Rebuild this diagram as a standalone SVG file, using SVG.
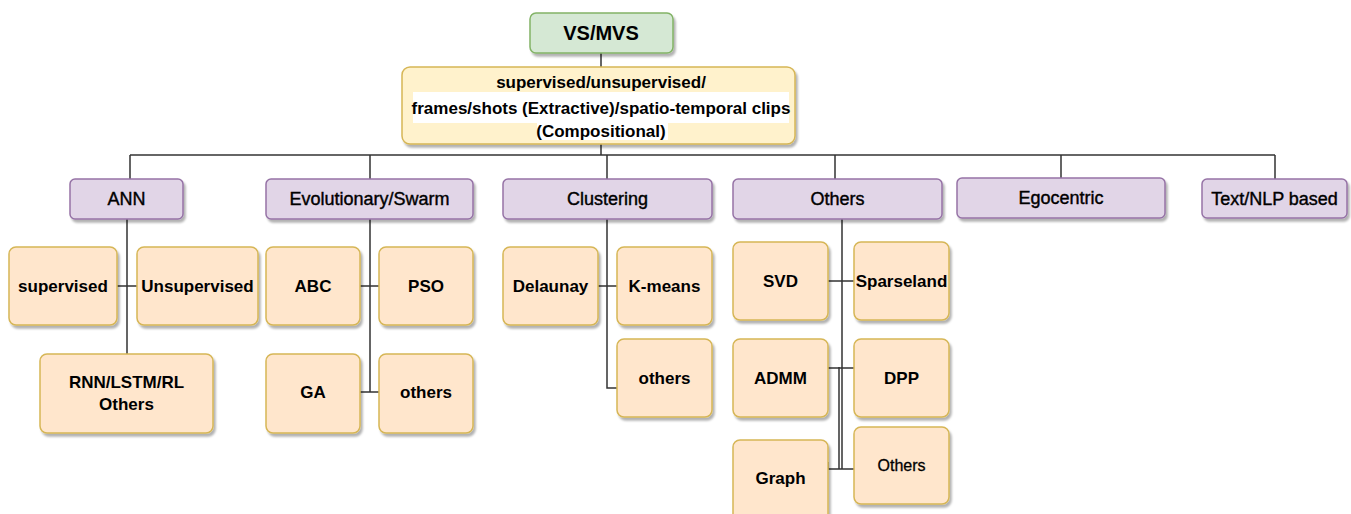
<svg xmlns="http://www.w3.org/2000/svg" width="1351" height="514" viewBox="0 0 1351 514">
<defs>
<filter id="sh" x="-10%" y="-10%" width="130%" height="140%">
<feDropShadow dx="2" dy="3" stdDeviation="1.2" flood-color="#000" flood-opacity="0.3"/>
</filter>
</defs>
<style>
.g{fill:#d5e8d4;stroke:#82b366;stroke-width:1.5;filter:url(#sh)}
.y{fill:#fff2cc;stroke:#d6b656;stroke-width:1.5;filter:url(#sh)}
.p{fill:#e1d5e7;stroke:#9673a6;stroke-width:1.5;filter:url(#sh)}
.o{fill:#ffe6cc;stroke:#d6b656;stroke-width:1.5;filter:url(#sh)}
text{font-family:"Liberation Sans",Arial,sans-serif;fill:#000;text-anchor:middle}
.b{font-weight:bold;font-size:17px}
.c{font-size:18px;stroke:#000;stroke-width:0.4}
.t{font-weight:bold;font-size:20px}
.n{font-size:16px;stroke:#000;stroke-width:0.3}
.e{fill:none;stroke:#333;stroke-width:1.5}
</style>
<rect width="1351" height="514" fill="#fff"/>
<g id="connectors" class="e">
<path d="M601 53V67"/>
<path d="M601 144V155"/>
<path d="M130 155H1275"/>
<path d="M130 155V179M370 155V179M607 155V179M835 155V179M1061 155V178M1275 155V179"/>
<path d="M127 219V354M117 286H137"/>
<path d="M370 219V392M360 286H379M360 392H379"/>
<path d="M607 219V388H617M598 286H617"/>
<path d="M842 219V469M828 281H854M828 368H854M839 367V469M828 469H854M828 462V469"/>
</g>
<g id="vsmvs">
<rect class="g" x="530" y="13" width="143" height="40" rx="6"/>
<text class="t" x="601" y="40">VS/MVS</text>
</g>
<g id="types">
<rect class="y" x="402" y="67" width="393" height="77" rx="8"/>
<rect x="413" y="92" width="376" height="31" fill="#fff"/>
<rect x="537" y="123" width="131" height="17" fill="#fff"/>
<text class="b" x="601" y="88">supervised/unsupervised/</text>
<text class="b" x="601" y="114">frames/shots (Extractive)/spatio-temporal clips</text>
<text class="b" x="601" y="137">(Compositional)</text>
</g>
<g id="ann">
<rect class="p" x="70" y="179" width="113" height="40" rx="5"/>
<text class="c" x="126.5" y="204.5">ANN</text>
</g>
<g id="evo">
<rect class="p" x="266" y="179" width="207" height="40" rx="5"/>
<text class="c" x="369.5" y="204.5">Evolutionary/Swarm</text>
</g>
<g id="clustering">
<rect class="p" x="503" y="179" width="209" height="40" rx="5"/>
<text class="c" x="607.5" y="204.5">Clustering</text>
</g>
<g id="others-cat">
<rect class="p" x="733" y="179" width="209" height="40" rx="5"/>
<text class="c" x="837.5" y="204.5">Others</text>
</g>
<g id="egocentric">
<rect class="p" x="957" y="178" width="208" height="40" rx="5"/>
<text class="c" x="1061" y="204">Egocentric</text>
</g>
<g id="textnlp">
<rect class="p" x="1202" y="179" width="145" height="39" rx="5"/>
<text class="c" x="1274.5" y="204.5">Text/NLP based</text>
</g>
<g id="ann-sup">
<rect class="o" x="9" y="247" width="108" height="78" rx="7"/>
<text class="b" x="63" y="292">supervised</text>
</g>
<g id="ann-unsup">
<rect class="o" x="137" y="247" width="121" height="78" rx="7"/>
<text class="b" x="197.5" y="292">Unsupervised</text>
</g>
<g id="ann-rnn">
<rect class="o" x="40" y="354" width="173" height="79" rx="7"/>
<text class="b" x="126.5" y="388">RNN/LSTM/RL</text>
<text class="b" x="126.5" y="410">Others</text>
</g>
<g id="abc">
<rect class="o" x="266" y="247" width="94" height="78" rx="7"/>
<text class="b" x="313" y="292">ABC</text>
</g>
<g id="pso">
<rect class="o" x="379" y="247" width="94" height="78" rx="7"/>
<text class="b" x="426" y="292">PSO</text>
</g>
<g id="ga">
<rect class="o" x="266" y="354" width="94" height="79" rx="7"/>
<text class="b" x="313" y="398">GA</text>
</g>
<g id="evo-others">
<rect class="o" x="379" y="354" width="94" height="79" rx="7"/>
<text class="b" x="426" y="398">others</text>
</g>
<g id="delaunay">
<rect class="o" x="503" y="247" width="95" height="78" rx="7"/>
<text class="b" x="550.5" y="292">Delaunay</text>
</g>
<g id="kmeans">
<rect class="o" x="617" y="247" width="95" height="78" rx="7"/>
<text class="b" x="664.5" y="292">K-means</text>
</g>
<g id="clu-others">
<rect class="o" x="617" y="339" width="95" height="78" rx="7"/>
<text class="b" x="664.5" y="384">others</text>
</g>
<g id="svd">
<rect class="o" x="733" y="242" width="95" height="78" rx="7"/>
<text class="b" x="780.5" y="287">SVD</text>
</g>
<g id="sparseland">
<rect class="o" x="854" y="242" width="95" height="78" rx="7"/>
<text class="b" x="901.5" y="287">Sparseland</text>
</g>
<g id="admm">
<rect class="o" x="733" y="339" width="95" height="78" rx="7"/>
<text class="b" x="780.5" y="384">ADMM</text>
</g>
<g id="dpp">
<rect class="o" x="854" y="339" width="95" height="78" rx="7"/>
<text class="b" x="901.5" y="384">DPP</text>
</g>
<g id="graph">
<rect class="o" x="733" y="440" width="95" height="82" rx="7"/>
<text class="b" x="780.5" y="484">Graph</text>
</g>
<g id="oth-others">
<rect class="o" x="854" y="427" width="95" height="77" rx="7"/>
<text class="n" x="901.5" y="471">Others</text>
</g>
</svg>
